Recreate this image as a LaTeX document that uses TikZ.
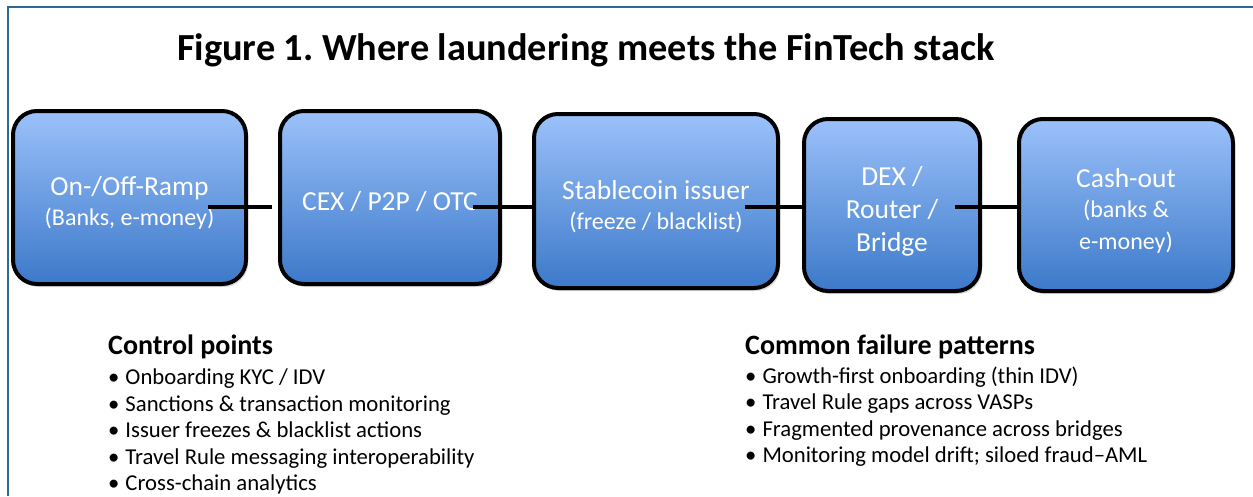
\documentclass[tikz,border=0pt]{standalone}
\usepackage{fontspec}
\setmainfont{Carlito}
\usetikzlibrary{shadows,calc}
\frenchspacing

\definecolor{frameblue}{RGB}{46,105,150}
\definecolor{boxtop}{RGB}{155,193,250}
\definecolor{boxbottom}{RGB}{60,121,201}

\newcommand{\fsz}[2]{\fontsize{#1}{#2}\selectfont}
\newcommand{\subline}[1]{{\fsz{24}{28}#1}}
\newcommand{\lift}[1]{\rule{0pt}{#1}}

\tikzset{
  stage/.style={draw=black, line width=4pt, rounded corners=24pt,
    top color=boxtop, bottom color=boxbottom, text=white,
    align=center, font=\fsz{27.5}{30},
    drop shadow={shadow xshift=2pt, shadow yshift=-3pt, opacity=0.3}},
  link/.style={draw=black, line width=4pt},
  figtitle/.style={anchor=base, inner sep=0pt, font=\bfseries\fsz{38.3}{44}},
  listhead/.style={anchor=base west, inner sep=0pt, font=\bfseries\fsz{28}{32}},
  listitem/.style={anchor=base west, inner sep=0pt, font=\fsz{22.7}{26}},
}

\begin{document}
\begin{tikzpicture}[x=1pt, y=-1pt]
  \useasboundingbox (0,0) rectangle (1253,496);
  \fill[white] (0,0) rectangle (1253,496);

  % frame edges
  \draw[frameblue, line width=2pt] (8,496) -- (8,7) -- (1253,7);

  \node[figtitle] (title) at (586,60) {Figure 1. Where laundering meets the FinTech stack};

  % the five stages
  \node[stage, minimum width=233pt, minimum height=173pt] (b1) at (129.5,197.5)
    {\lift{30pt}On-/Off-Ramp\\\subline{(Banks, e-money)}};
  \node[stage, minimum width=220pt, minimum height=173pt] (b2) at (390,197.5)
    {\lift{27pt}CEX / P2P / OTC};
  \node[stage, minimum width=244pt, minimum height=174pt] (b3) at (656,201)
    {\lift{30pt}Stablecoin issuer\\\subline{(freeze / blacklist)}};
  \node[stage, minimum width=176pt, minimum height=172pt] (b4) at (892,205)
    {\lift{32pt}DEX /\\[3pt]Router /\\[3pt]Bridge};
  \node[stage, minimum width=214pt, minimum height=172pt] (b5) at (1126,205)
    {\lift{30pt}Cash-out\\\subline{(banks \&}\\[2pt]\subline{e-money)}};

  % links between stages
  \coordinate (lane) at (0,207);
  \draw[link] ($(b1.east |- lane)+(-40,0)$) -- ($(b2.west |- lane)+(-6,0)$);
  \draw[link] ($(b2.east |- lane)+(-29,0)$) -- ($(b3.west |- lane)+(2,0)$);
  \draw[link] ($(b3.east |- lane)+(-35,0)$) -- ($(b4.west |- lane)+(4,0)$);
  \draw[link] ($(b4.east |- lane)+(-27,0)$) -- (b5.west |- lane);

  % control points
  \node[listhead] (cph) at (108,354) {Control points};
  \foreach \t [count=\i] in {Onboarding KYC / IDV,
      Sanctions \& transaction monitoring,
      Issuer freezes \& blacklist actions,
      Travel Rule messaging interoperability,
      Cross-chain analytics}
    \node[listitem] (cp\i) at (108,384.5+26.6*\i-26.6) {\textbullet\hspace{6pt}\t};

  % failure patterns
  \node[listhead] (fph) at (745,354) {Common failure patterns};
  \foreach \t [count=\i] in {Growth-first onboarding (thin IDV),
      Travel Rule gaps across VASPs,
      Fragmented provenance across bridges,
      Monitoring model drift; siloed fraud--AML}
    \node[listitem] (fp\i) at (745,383+26.6*\i-26.6) {\textbullet\hspace{6pt}\t};
\end{tikzpicture}
\end{document}
